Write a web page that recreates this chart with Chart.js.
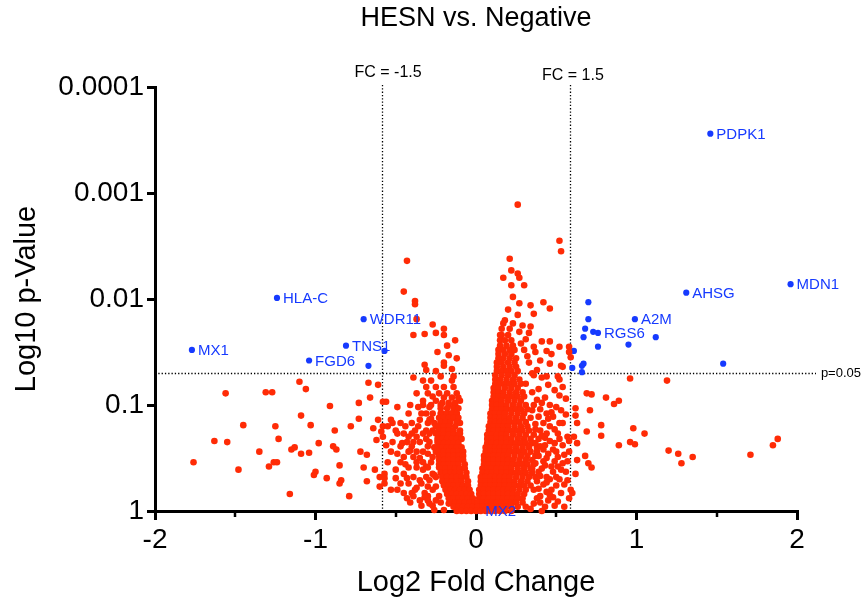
<!DOCTYPE html>
<html>
<head>
<meta charset="utf-8">
<title>HESN vs. Negative</title>
<script src="https://cdn.jsdelivr.net/npm/chart.js@4.4.1/dist/chart.umd.min.js"></script>
<style>
  html, body { margin: 0; padding: 0; background: #fff; }
  #wrap { width: 862px; height: 604px; position: relative; }
</style>
</head>
<body>
<div id="wrap"><canvas id="volcano"></canvas></div>
<script>
// cut-offs drawn as dotted guides
const fcCut = 1.5;
const pCut = 0.05;

// x = log2 fold change, y = -log10(p)
const geneNames = ['PDPK1', 'MDN1', 'AHSG', 'HLA-C', 'WDR11', 'A2M', 'RGS6', 'MX1', 'TNS1', 'FGD6', 'MX2'];
const geneFC = [1.46, 1.96, 1.31, -1.24, -0.70, 0.99, 0.76, -1.77, -0.81, -1.04, 0.02];
const geneNegLogP = [3.56, 2.14, 2.06, 2.01, 1.81, 1.81, 1.68, 1.52, 1.56, 1.42, 0.0];

// significant but unlabelled
const sigOther = [
  [0.70, 1.97], [0.70, 1.81], [0.68, 1.72], [0.73, 1.69], [0.67, 1.64], [0.76, 1.55],
  [0.95, 1.57], [1.12, 1.64], [0.61, 1.51], [0.67, 1.39], [0.66, 1.37], [0.60, 1.35],
  [0.66, 1.31], [1.54, 1.39], [-0.57, 1.51], [-0.67, 1.37]
];

// not significant: far left scatter
const leftScatter = [
  [-1.56, 1.11], [-1.31, 1.12], [-1.27, 1.12], [-1.10, 1.22], [-1.06, 1.15], [-1.45, 0.81],
  [-1.63, 0.66], [-1.55, 0.65], [-1.76, 0.46], [-1.48, 0.39], [-1.35, 0.56], [-1.29, 0.42],
  [-1.26, 0.46], [-1.24, 0.46], [-1.25, 0.80], [-1.23, 0.68], [-1.15, 0.58], [-1.13, 0.60],
  [-1.09, 0.90], [-1.09, 0.54], [-1.04, 0.55], [-1.03, 0.81], [-0.98, 0.64], [-1.01, 0.34],
  [-1.00, 0.37], [-0.93, 0.31], [-0.91, 0.99], [-0.89, 0.61], [-0.87, 0.58], [-0.88, 0.76],
  [-0.85, 0.43], [-0.85, 0.26], [-0.84, 0.29], [-0.79, 0.14], [-0.78, 0.80], [-1.16, 0.16],
  [-0.73, 1.02], [-0.73, 0.87], [-0.72, 0.56], [-0.70, 0.41], [-0.68, 0.53], [-0.68, 0.28],
  [-0.67, 1.21], [-0.66, 1.07], [-0.64, 0.78], [-0.63, 0.39], [-0.62, 0.67], [-0.61, 0.86],
  [-0.61, 1.19], [-0.60, 0.23], [-0.60, 0.32], [-0.59, 0.75], [-0.58, 0.80], [-0.58, 0.70],
  [-0.58, 1.03], [-0.56, 1.03], [-0.56, 0.62], [-0.57, 0.35], [-0.57, 0.26]
];

// left side, above the dense arm
const leftUpper = [
  [-0.43, 2.36], [-0.45, 2.07], [-0.38, 1.98], [-0.38, 1.95], [-0.37, 1.81], [-0.27, 1.76],
  [-0.39, 1.66], [-0.32, 1.67], [-0.25, 1.68], [-0.20, 1.72], [-0.20, 1.66], [-0.13, 1.61],
  [-0.18, 1.56], [-0.12, 1.44], [-0.20, 1.40], [-0.20, 1.37], [-0.32, 1.38], [-0.31, 1.33],
  [-0.25, 1.32], [-0.22, 1.27], [-0.39, 1.26], [-0.33, 1.23], [-0.28, 1.23], [-0.15, 1.23],
  [-0.14, 1.27], [-0.17, 1.47], [-0.24, 1.50], [-0.15, 1.34]
];

// left side spread, rows of [-log10 p, fold changes]
const leftSpreadRows = [
  [1.17, [-0.31, -0.25, -0.20, -0.14]],
  [1.11, [-0.37, -0.30, -0.23, -0.18, -0.12]],
  [1.08, [-0.27]],
  [1.04, [-0.10, -0.33, -0.25]],
  [1.00, [-0.41, -0.33, -0.28, -0.22, -0.17, -0.13]],
  [0.98, [-0.49, -0.36, -0.29]],
  [0.92, [-0.31, -0.27, -0.21, -0.16, -0.12, -0.42, -0.34]],
  [0.87, [-0.28]],
  [0.86, [-0.53, -0.35, -0.29]],
  [0.83, [-0.52, -0.47, -0.40, -0.30, -0.22, -0.10, -0.26]],
  [0.80, [-0.55, -0.44, -0.25, -0.17, -0.36]],
  [0.76, [-0.50, -0.31, -0.27, -0.38]],
  [0.73, [-0.49, -0.45, -0.40, -0.33, -0.29, -0.25, -0.19, -0.14, -0.10]],
  [0.70, [-0.37, -0.42]],
  [0.68, [-0.31]],
  [0.65, [-0.52, -0.43, -0.39, -0.35, -0.24, -0.13, -0.29]],
  [0.64, [-0.46]],
  [0.61, [-0.47, -0.30, -0.18, -0.40]],
  [0.60, [-0.26]],
  [0.57, [-0.41]],
  [0.56, [-0.53, -0.42, -0.37, -0.25, -0.10, -0.33]],
  [0.54, [-0.49, -0.30, -0.21, -0.15]],
  [0.51, [-0.45, -0.39, -0.27]],
  [0.50, [-0.35]],
  [0.46, [-0.55, -0.47, -0.37, -0.28, -0.18, -0.12, -0.33]],
  [0.44, [-0.44]],
  [0.42, [-0.31]],
  [0.41, [-0.42, -0.23, -0.30, -0.37]],
  [0.39, [-0.50, -0.33]],
  [0.35, [-0.45, -0.27]],
  [0.34, [-0.26]],
  [0.32, [-0.39, -0.25, -0.10, -0.31]],
  [0.31, [-0.57, -0.50, -0.43, -0.15]],
  [0.29, [-0.29, -0.35]],
  [0.26, [-0.34, -0.20, -0.42, -0.47]],
  [0.23, [-0.30, -0.25]],
  [0.22, [-0.37]],
  [0.20, [-0.53, -0.49, -0.27, -0.18, -0.38]],
  [0.17, [-0.40, -0.32, -0.13, -0.45]],
  [0.14, [-0.39, -0.23, -0.09, -0.30]],
  [0.13, [-0.32]],
  [0.12, [-0.43]],
  [0.10, [-0.30, -0.35, -0.25]],
  [0.08, [-0.22, -0.41]],
  [0.07, [-0.17, -0.12, -0.29]],
  [0.05, [-0.08, -0.34, -0.27]],
  [0.01, [-0.04, -0.20, -0.26]]
];

// dense left arm
const leftArmRows = [
  [1.07, [-0.20, -0.15, -0.11]],
  [1.02, [-0.21, -0.17, -0.13]],
  [0.97, [-0.22, -0.18, -0.14, -0.11]],
  [0.92, [-0.22, -0.18, -0.15, -0.12]],
  [0.88, [-0.23, -0.20, -0.17, -0.14, -0.11]],
  [0.84, [-0.22, -0.19, -0.16, -0.12]],
  [0.80, [-0.23, -0.20, -0.17, -0.13]],
  [0.76, [-0.23, -0.20, -0.17, -0.14, -0.10]],
  [0.72, [-0.23, -0.20, -0.17, -0.14, -0.11]],
  [0.68, [-0.24, -0.21, -0.18, -0.15, -0.12, -0.09]],
  [0.64, [-0.23, -0.20, -0.17, -0.14, -0.11]],
  [0.60, [-0.24, -0.21, -0.18, -0.15, -0.12, -0.09]],
  [0.56, [-0.23, -0.20, -0.17, -0.14, -0.11, -0.08]],
  [0.52, [-0.23, -0.20, -0.17, -0.14, -0.11, -0.08]],
  [0.48, [-0.23, -0.20, -0.17, -0.14, -0.11, -0.08]],
  [0.44, [-0.23, -0.20, -0.17, -0.14, -0.11, -0.07]],
  [0.40, [-0.22, -0.19, -0.16, -0.13, -0.10, -0.07]],
  [0.36, [-0.22, -0.19, -0.16, -0.13, -0.10, -0.06]],
  [0.32, [-0.21, -0.18, -0.15, -0.12, -0.09, -0.06]],
  [0.28, [-0.21, -0.18, -0.15, -0.12, -0.09, -0.05]],
  [0.24, [-0.20, -0.17, -0.14, -0.11, -0.08, -0.05]],
  [0.20, [-0.19, -0.16, -0.13, -0.10, -0.07, -0.04]],
  [0.16, [-0.18, -0.15, -0.12, -0.09, -0.06, -0.03]],
  [0.12, [-0.17, -0.14, -0.11, -0.08, -0.05, -0.02]],
  [0.08, [-0.16, -0.13, -0.10, -0.07, -0.04, -0.01]],
  [0.04, [-0.14, -0.11, -0.08, -0.05, -0.02]],
  [0.00, [-0.12, -0.09, -0.06, -0.03]]
];

// dense right arm
const rightArmRows = [
  [1.80, [0.18]],
  [1.72, [0.16, 0.21]],
  [1.66, [0.16, 0.20]],
  [1.61, [0.15, 0.18, 0.22]],
  [1.56, [0.15, 0.19, 0.23]],
  [1.52, [0.14, 0.17, 0.21, 0.24]],
  [1.48, [0.14, 0.18, 0.22]],
  [1.44, [0.14, 0.17, 0.21, 0.25]],
  [1.40, [0.13, 0.16, 0.20, 0.24]],
  [1.36, [0.13, 0.17, 0.21, 0.25]],
  [1.32, [0.13, 0.16, 0.19, 0.22, 0.26]],
  [1.28, [0.12, 0.16, 0.20, 0.24]],
  [1.24, [0.12, 0.15, 0.19, 0.23, 0.27]],
  [1.20, [0.12, 0.15, 0.18, 0.21, 0.24, 0.28]],
  [1.16, [0.11, 0.14, 0.18, 0.22, 0.26]],
  [1.12, [0.11, 0.14, 0.17, 0.21, 0.25, 0.29]],
  [1.08, [0.11, 0.14, 0.17, 0.20, 0.23, 0.26, 0.30]],
  [1.04, [0.10, 0.13, 0.16, 0.20, 0.24, 0.28]],
  [1.00, [0.10, 0.13, 0.16, 0.19, 0.23, 0.27, 0.31]],
  [0.96, [0.10, 0.13, 0.16, 0.19, 0.22, 0.25, 0.28, 0.32]],
  [0.92, [0.09, 0.12, 0.15, 0.18, 0.22, 0.26, 0.30]],
  [0.88, [0.09, 0.12, 0.15, 0.18, 0.21, 0.25, 0.29, 0.34]],
  [0.84, [0.09, 0.12, 0.15, 0.18, 0.21, 0.24, 0.27, 0.31]],
  [0.80, [0.08, 0.11, 0.14, 0.17, 0.20, 0.24, 0.28, 0.32]],
  [0.76, [0.08, 0.11, 0.14, 0.17, 0.20, 0.23, 0.26, 0.29, 0.33]],
  [0.72, [0.07, 0.10, 0.13, 0.16, 0.19, 0.23, 0.27, 0.31, 0.36]],
  [0.68, [0.07, 0.10, 0.13, 0.16, 0.19, 0.22, 0.26, 0.30, 0.34]],
  [0.64, [0.07, 0.10, 0.13, 0.16, 0.19, 0.22, 0.25, 0.28, 0.31, 0.35]],
  [0.60, [0.06, 0.09, 0.12, 0.15, 0.18, 0.21, 0.25, 0.29, 0.33, 0.38]],
  [0.56, [0.06, 0.09, 0.12, 0.15, 0.18, 0.21, 0.24, 0.27, 0.30, 0.34]],
  [0.52, [0.05, 0.08, 0.11, 0.14, 0.17, 0.20, 0.24, 0.28, 0.32, 0.37]],
  [0.48, [0.05, 0.08, 0.11, 0.14, 0.17, 0.20, 0.23, 0.27, 0.31, 0.35]],
  [0.44, [0.05, 0.08, 0.11, 0.14, 0.17, 0.20, 0.23, 0.26, 0.29, 0.32, 0.36]],
  [0.40, [0.04, 0.07, 0.10, 0.13, 0.16, 0.19, 0.22, 0.26, 0.30, 0.34]],
  [0.36, [0.04, 0.07, 0.10, 0.13, 0.16, 0.19, 0.22, 0.25, 0.28, 0.31, 0.35]],
  [0.32, [0.03, 0.06, 0.09, 0.12, 0.15, 0.18, 0.21, 0.25, 0.29, 0.33, 0.37]],
  [0.28, [0.03, 0.06, 0.09, 0.12, 0.15, 0.18, 0.21, 0.24, 0.28, 0.32]],
  [0.24, [0.03, 0.06, 0.09, 0.12, 0.15, 0.18, 0.21, 0.24, 0.27, 0.30, 0.34]],
  [0.20, [0.02, 0.05, 0.08, 0.11, 0.14, 0.17, 0.20, 0.23, 0.27, 0.31]],
  [0.16, [0.02, 0.05, 0.08, 0.11, 0.14, 0.17, 0.20, 0.23, 0.26, 0.30]],
  [0.12, [0.02, 0.05, 0.08, 0.11, 0.14, 0.17, 0.20, 0.23, 0.26, 0.29]],
  [0.08, [0.01, 0.04, 0.07, 0.10, 0.13, 0.16, 0.19, 0.22, 0.25, 0.29]],
  [0.04, [0.01, 0.04, 0.07, 0.10, 0.13, 0.16, 0.19, 0.22, 0.26]],
  [0.00, [0.00, 0.03, 0.06, 0.09, 0.12, 0.15, 0.18, 0.22]]
];

// right side, above the dense arm and spread towards the cut-off
const rightScatter = [
  [0.26, 2.89], [0.52, 2.55], [0.53, 2.45], [0.21, 2.38], [0.22, 2.27], [0.26, 2.24],
  [0.27, 2.20], [0.17, 2.20], [0.22, 2.13], [0.30, 2.13], [0.34, 1.94], [0.42, 1.97],
  [0.46, 1.91], [0.17, 1.77], [0.23, 1.77], [0.29, 1.75], [0.34, 1.74], [0.27, 1.69],
  [0.33, 1.68], [0.15, 1.66], [0.41, 1.60], [0.46, 1.60], [0.36, 1.55], [0.44, 1.51],
  [0.52, 1.55], [0.58, 1.55], [0.58, 1.50], [0.30, 1.52], [0.59, 1.45], [0.53, 1.37],
  [0.54, 1.36], [0.40, 1.42], [0.46, 1.39], [0.51, 1.27], [0.38, 1.33], [0.44, 1.27],
  [0.36, 1.28], [0.52, 1.24], [0.54, 1.17], [0.52, 1.09], [0.41, 1.02], [0.46, 1.00],
  [0.50, 0.98], [0.53, 0.95], [0.44, 0.92], [0.39, 0.89], [0.48, 0.89], [0.54, 0.83],
  [0.46, 0.80], [0.40, 0.76], [0.51, 0.73], [0.57, 0.70], [0.43, 0.69], [0.49, 0.64],
  [0.54, 0.62], [0.58, 0.66], [0.40, 0.61], [0.45, 0.54], [0.51, 0.51], [0.57, 0.47],
  [0.42, 0.47], [0.47, 0.42], [0.53, 0.39], [0.39, 0.37], [0.44, 0.32], [0.50, 0.32],
  [0.57, 0.29], [0.59, 0.20], [0.42, 0.25], [0.47, 0.20], [0.53, 0.17], [0.40, 0.14],
  [0.45, 0.10], [0.51, 0.09], [0.36, 0.07], [0.58, 0.12], [0.41, 0.00], [0.34, 0.02],
  [0.33, 1.40], [0.31, 1.20], [0.35, 1.12], [0.38, 1.05], [0.35, 0.95], [0.42, 0.83],
  [0.37, 0.82], [0.44, 0.73], [0.39, 0.68], [0.42, 0.58], [0.48, 0.58], [0.39, 0.52],
  [0.41, 0.40], [0.38, 0.28], [0.46, 0.30], [0.36, 0.20], [0.40, 0.08], [0.31, 0.04],
  [0.48, 0.13], [0.55, 0.25], [0.49, 0.47], [0.55, 0.53], [0.49, 0.77], [0.56, 0.91],
  [0.49, 1.14], [0.56, 1.06], [0.47, 1.48], [0.36, 1.86], [0.27, 1.96], [0.23, 2.02],
  [0.36, 1.00], [0.40, 0.96], [0.45, 0.87], [0.37, 0.77], [0.41, 0.71], [0.46, 0.66],
  [0.52, 0.68], [0.37, 0.64], [0.43, 0.62], [0.38, 0.56], [0.44, 0.50], [0.50, 0.56],
  [0.54, 0.45], [0.37, 0.45], [0.43, 0.43], [0.48, 0.37], [0.40, 0.33], [0.35, 0.40],
  [0.44, 0.27], [0.50, 0.24], [0.39, 0.21], [0.44, 0.18], [0.49, 0.05], [0.38, 0.12],
  [0.43, 0.04], [0.55, 0.04], [0.46, 0.15], [0.52, 0.30], [0.56, 0.37], [0.51, 0.42],
  [0.58, 0.56], [0.52, 0.83], [0.47, 0.93], [0.43, 1.07], [0.39, 1.15], [0.45, 1.19],
  [0.41, 1.26], [0.35, 1.30], [0.32, 1.46], [0.37, 1.50], [0.28, 1.58], [0.31, 1.62],
  [0.26, 1.85], [0.20, 1.90],
  [0.96, 1.25], [1.19, 1.23], [0.69, 1.11], [0.72, 1.10], [0.81, 1.07], [0.86, 1.01],
  [0.89, 1.04], [0.71, 0.95], [0.62, 0.97], [0.62, 0.90], [0.63, 0.83], [0.78, 0.81],
  [0.98, 0.78], [0.69, 0.75], [0.78, 0.71], [1.05, 0.73], [0.61, 0.70], [0.63, 0.64],
  [0.89, 0.62], [0.96, 0.65], [0.99, 0.63], [0.68, 0.52], [0.63, 0.48], [0.70, 0.45],
  [0.72, 0.41], [0.62, 0.35], [1.20, 0.57], [1.26, 0.54], [1.28, 0.45], [1.35, 0.51],
  [1.71, 0.53], [1.85, 0.62], [1.88, 0.68], [0.60, 0.17]
];

const toPoint = ([fc, nl]) => ({ x: fc, y: Math.pow(10, -nl) });
const fromRows = rows => rows.flatMap(([nl, fcs]) => fcs.map(fc => toPoint([fc, nl])));

const redPoints = [
  ...leftScatter.map(toPoint),
  ...leftUpper.map(toPoint),
  ...fromRows(leftSpreadRows),
  ...fromRows(leftArmRows),
  ...fromRows(rightArmRows),
  ...rightScatter.map(toPoint)
];
const bluePoints = [
  ...sigOther.map(toPoint),
  ...geneFC.map((fc, i) => toPoint([fc, geneNegLogP[i]]))
];

const red = 'rgb(255, 43, 6)';
const blue = 'rgb(22, 58, 255)';
const fontFamily = '"Liberation Sans", Arial, Helvetica, sans-serif';

const extras = {
  id: 'extras',
  beforeDatasetsDraw(chart) {
    const { ctx, chartArea: a, scales: { x, y } } = chart;
    ctx.save();
    ctx.strokeStyle = '#000';
    ctx.lineWidth = 1.3;
    ctx.setLineDash([1.3, 2]);
    const lfc = Math.log2(fcCut);
    [-lfc, lfc].forEach(v => {
      const px = Math.round(x.getPixelForValue(v)) + 0.5;
      ctx.beginPath();
      ctx.moveTo(px, a.top - 2);
      ctx.lineTo(px, a.bottom);
      ctx.stroke();
    });
    const py = Math.round(y.getPixelForValue(pCut)) + 0.5;
    ctx.beginPath();
    ctx.moveTo(a.left, py);
    ctx.lineTo(a.right + 19, py);
    ctx.stroke();
    ctx.restore();
  },
  afterDraw(chart) {
    const { ctx, chartArea: a, scales: { x, y } } = chart;
    ctx.save();
    // minor ticks on the x axis
    ctx.strokeStyle = '#000';
    ctx.lineWidth = 2.5;
    [-1.5, -0.5, 0.5, 1.5].forEach(v => {
      const px = Math.round(x.getPixelForValue(v));
      ctx.beginPath();
      ctx.moveTo(px, a.bottom);
      ctx.lineTo(px, a.bottom + 6);
      ctx.stroke();
    });

    // title
    ctx.fillStyle = '#000';
    ctx.textAlign = 'center';
    ctx.textBaseline = 'middle';
    ctx.font = '27px ' + fontFamily;
    ctx.fillText('HESN vs. Negative', (a.left + a.right) / 2, 19);

    // cut-off captions
    const lfc = Math.log2(fcCut);
    ctx.font = '16px ' + fontFamily;
    ctx.fillText('FC = -' + fcCut, x.getPixelForValue(-lfc) + 6, 73);
    ctx.fillText('FC = ' + fcCut, x.getPixelForValue(lfc) + 3, 76);
    ctx.textAlign = 'right';
    ctx.font = '13px ' + fontFamily;
    ctx.fillText('p=' + pCut, 861, y.getPixelForValue(pCut));

    // gene names
    ctx.textAlign = 'left';
    ctx.fillStyle = blue;
    ctx.font = '15px ' + fontFamily;
    geneNames.forEach((name, i) => {
      const px = x.getPixelForValue(geneFC[i]) + 6;
      const py = y.getPixelForValue(Math.pow(10, -geneNegLogP[i]));
      ctx.fillText(name, px, py + 1);
    });
    ctx.restore();
  }
};

new Chart(document.getElementById('volcano'), {
  type: 'scatter',
  data: {
    datasets: [
      { data: redPoints, backgroundColor: red, pointRadius: 3.3, pointBorderWidth: 0, clip: false },
      { data: bluePoints, backgroundColor: blue, pointRadius: 3.1, pointBorderWidth: 0, clip: false }
    ]
  },
  options: {
    responsive: true,
    maintainAspectRatio: false,
    animation: false,
    layout: { padding: { top: 87, right: 65, bottom: 0, left: 0 } },
    plugins: {
      legend: { display: false },
      tooltip: { enabled: false }
    },
    scales: {
      x: {
        type: 'linear',
        min: -2,
        max: 2,
        afterFit(scale) { scale.height = 93; },
        ticks: { stepSize: 1, color: '#000', padding: 3, font: { family: fontFamily, size: 28 } },
        grid: { drawOnChartArea: false, color: '#000', lineWidth: 3, tickLength: 9, tickWidth: 3, tickColor: '#000' },
        border: { color: '#000', width: 3 },
        title: { display: true, text: 'Log2 Fold Change', color: '#000', padding: { top: 4, bottom: 4 }, font: { family: fontFamily, size: 29 } }
      },
      y: {
        type: 'logarithmic',
        reverse: true,
        min: 0.0001,
        max: 1,
        afterFit(scale) { scale.width = 155; },
        afterBuildTicks(scale) {
          scale.ticks = [0.0001, 0.001, 0.01, 0.1, 1].map(v => ({ value: v }));
        },
        ticks: {
          color: '#000',
          padding: 3,
          font: { family: fontFamily, size: 28 },
          callback: v => String(v)
        },
        grid: { drawOnChartArea: false, color: '#000', lineWidth: 3, tickLength: 8, tickWidth: 3, tickColor: '#000' },
        border: { color: '#000', width: 3 },
        title: { display: true, text: 'Log10 p-Value', color: '#000', padding: { top: 10, bottom: 0 }, font: { family: fontFamily, size: 29 } }
      }
    }
  },
  plugins: [extras]
});
</script>
</body>
</html>
